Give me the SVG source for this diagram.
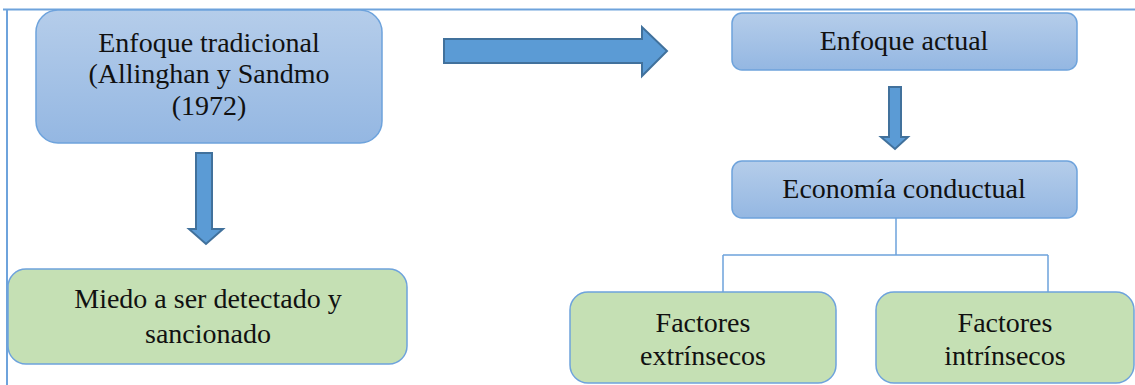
<svg xmlns="http://www.w3.org/2000/svg" width="1135" height="385" viewBox="0 0 1135 385">
<defs>
<linearGradient id="gb" x1="0" y1="0" x2="0" y2="1">
<stop offset="0" stop-color="#b5cdea"/>
<stop offset="1" stop-color="#94b7e2"/>
</linearGradient>
</defs>
<style>
.blue{fill:url(#gb);stroke:#6ea3dc;stroke-width:1.5}
.green{fill:#c5e0b4;stroke:#6ea3dc;stroke-width:1.5}
.arrow{fill:#5b9bd5;stroke:#41719c;stroke-width:2}
.conn{fill:none;stroke:#6ea3dc;stroke-width:1.5}
</style>
<rect width="1135" height="385" fill="#fff"/>
<path d="M3 9.5 H1135 M7 9.5 V385" fill="none" stroke="#6ea3dc" stroke-width="2"/>
<g id="connectors">
<path class="conn" d="M896 218 V255 M723 255 H1048 M723 255 V292 M1048 255 V294"/>
<polygon class="arrow" points="444,39 642,39 642,27 667,51 642,76 642,63 444,63"/>
<polygon class="arrow" points="196,153 212,153 212,229 223,229 206,244 189,229 196,229"/>
<polygon class="arrow" points="889,87 901,87 901,137 908,137 895,149 881,137 889,137"/>
</g>
<g id="n1">
<rect class="blue" x="36" y="10" width="346" height="133" rx="22"/>
<text x="209" y="52" font-family="Liberation Serif" font-size="28" fill="#111" text-anchor="middle">Enfoque tradicional</text>
<text x="209" y="83" font-family="Liberation Serif" font-size="28" fill="#111" text-anchor="middle">(Allinghan y Sandmo</text>
<text x="209" y="115" font-family="Liberation Serif" font-size="28" fill="#111" text-anchor="middle">(1972)</text>
</g>
<g id="n2">
<rect class="blue" x="732" y="13" width="345" height="57" rx="10"/>
<text x="904" y="50" font-family="Liberation Serif" font-size="28" fill="#111" text-anchor="middle">Enfoque actual</text>
</g>
<g id="n3">
<rect class="blue" x="732" y="161" width="345" height="57" rx="10"/>
<text x="904" y="198" font-family="Liberation Serif" font-size="28" fill="#111" text-anchor="middle">Economía conductual</text>
</g>
<g id="n4">
<rect class="green" x="8" y="269" width="399" height="95" rx="18"/>
<text x="208" y="308" font-family="Liberation Serif" font-size="28" fill="#111" text-anchor="middle">Miedo a ser detectado y</text>
<text x="208" y="343" font-family="Liberation Serif" font-size="28" fill="#111" text-anchor="middle">sancionado</text>
</g>
<g id="n5">
<rect class="green" x="570" y="292" width="266" height="91" rx="18"/>
<text x="703" y="332" font-family="Liberation Serif" font-size="28" fill="#111" text-anchor="middle">Factores</text>
<text x="703" y="365" font-family="Liberation Serif" font-size="28" fill="#111" text-anchor="middle">extrínsecos</text>
</g>
<g id="n6">
<rect class="green" x="876" y="292" width="258" height="91" rx="18"/>
<text x="1005" y="332" font-family="Liberation Serif" font-size="28" fill="#111" text-anchor="middle">Factores</text>
<text x="1005" y="365" font-family="Liberation Serif" font-size="28" fill="#111" text-anchor="middle">intrínsecos</text>
</g>
</svg>
